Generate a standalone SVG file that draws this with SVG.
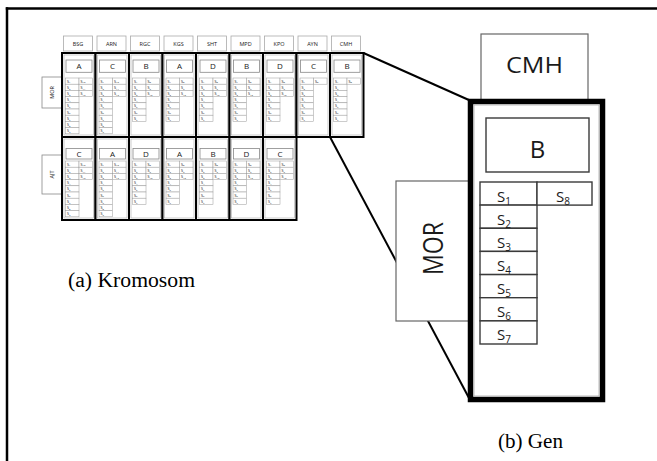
<svg xmlns="http://www.w3.org/2000/svg" xmlns:xlink="http://www.w3.org/1999/xlink" width="657" height="461" viewBox="0 0 657 461">
<style>
.frame{stroke:#000;stroke-width:2.5;fill:none}
.conn{stroke:#000;stroke-width:2;fill:none}
.col{fill:#fff;stroke:#000;stroke-width:2}
.coli{fill:none;stroke:#aaa;stroke-width:0.6}
.hdr{fill:#fff;stroke:#aaa;stroke-width:0.8}
.lb{fill:#fff;stroke:#888;stroke-width:0.8}
.sc{fill:#fff;stroke:#999;stroke-width:0.5}
.t{font-family:"Open Sans","Noto Sans",sans-serif;fill:#1a1a1a}
.ht{font-size:5.5px;text-anchor:middle}
.lt{font-size:8px;text-anchor:middle}
.st{font-size:3.6px}
.sub{font-size:2.5px}
.big{fill:#fff;stroke:#666;stroke-width:1.2}
.bigc{fill:#fff;stroke:#3a3a3a;stroke-width:1.4}
.bs{font-size:15px}
.bsub{font-size:10px}
.cap{font-family:"Liberation Serif","Times New Roman",serif;font-size:20px;fill:#000}
</style>
<defs>
<g id="c7r3">
<rect class="sc" x="3.5" y="0" width="13.5" height="6.2"/><rect class="sc" x="3.5" y="6.2" width="13.5" height="6.2"/><rect class="sc" x="3.5" y="12.4" width="13.5" height="6.2"/><rect class="sc" x="3.5" y="18.6" width="13.5" height="6.2"/><rect class="sc" x="3.5" y="24.8" width="13.5" height="6.2"/><rect class="sc" x="3.5" y="31" width="13.5" height="6.2"/><rect class="sc" x="3.5" y="37.2" width="13.5" height="6.2"/>
<rect class="sc" x="17" y="0" width="13.5" height="6.2"/><rect class="sc" x="17" y="6.2" width="13.5" height="6.2"/><rect class="sc" x="17" y="12.4" width="13.5" height="6.2"/>
<g class="t st">
<text x="5" y="4.6">S<tspan class="sub" dy="0.8">1</tspan></text><text x="5" y="10.8">S<tspan class="sub" dy="0.8">2</tspan></text><text x="5" y="17">S<tspan class="sub" dy="0.8">3</tspan></text><text x="5" y="23.2">S<tspan class="sub" dy="0.8">4</tspan></text><text x="5" y="29.4">S<tspan class="sub" dy="0.8">5</tspan></text><text x="5" y="35.6">S<tspan class="sub" dy="0.8">6</tspan></text><text x="5" y="41.8">S<tspan class="sub" dy="0.8">7</tspan></text>
<text x="18.5" y="4.6">S<tspan class="sub" dy="0.8">8</tspan></text><text x="18.5" y="10.8">S<tspan class="sub" dy="0.8">9</tspan></text><text x="18.5" y="17">S<tspan class="sub" dy="0.8">10</tspan></text>
</g>
</g>
<g id="c9r3">
<rect class="sc" x="3.5" y="0" width="13.5" height="6.2"/><rect class="sc" x="3.5" y="6.2" width="13.5" height="6.2"/><rect class="sc" x="3.5" y="12.4" width="13.5" height="6.2"/><rect class="sc" x="3.5" y="18.6" width="13.5" height="6.2"/><rect class="sc" x="3.5" y="24.8" width="13.5" height="6.2"/><rect class="sc" x="3.5" y="31" width="13.5" height="6.2"/><rect class="sc" x="3.5" y="37.2" width="13.5" height="6.2"/><rect class="sc" x="3.5" y="43.4" width="13.5" height="6.2"/><rect class="sc" x="3.5" y="49.6" width="13.5" height="6.2"/>
<rect class="sc" x="17" y="0" width="13.5" height="6.2"/><rect class="sc" x="17" y="6.2" width="13.5" height="6.2"/><rect class="sc" x="17" y="12.4" width="13.5" height="6.2"/>
<g class="t st">
<text x="5" y="4.6">S<tspan class="sub" dy="0.8">1</tspan></text><text x="5" y="10.8">S<tspan class="sub" dy="0.8">2</tspan></text><text x="5" y="17">S<tspan class="sub" dy="0.8">3</tspan></text><text x="5" y="23.2">S<tspan class="sub" dy="0.8">4</tspan></text><text x="5" y="29.4">S<tspan class="sub" dy="0.8">5</tspan></text><text x="5" y="35.6">S<tspan class="sub" dy="0.8">6</tspan></text><text x="5" y="41.8">S<tspan class="sub" dy="0.8">7</tspan></text><text x="5" y="48">S<tspan class="sub" dy="0.8">8</tspan></text><text x="5" y="54.2">S<tspan class="sub" dy="0.8">9</tspan></text>
<text x="18.5" y="4.6">S<tspan class="sub" dy="0.8">10</tspan></text><text x="18.5" y="10.8">S<tspan class="sub" dy="0.8">11</tspan></text><text x="18.5" y="17">S<tspan class="sub" dy="0.8">12</tspan></text>
</g>
</g>
<g id="c7r1">
<rect class="sc" x="3.5" y="0" width="13.5" height="6.2"/><rect class="sc" x="3.5" y="6.2" width="13.5" height="6.2"/><rect class="sc" x="3.5" y="12.4" width="13.5" height="6.2"/><rect class="sc" x="3.5" y="18.6" width="13.5" height="6.2"/><rect class="sc" x="3.5" y="24.8" width="13.5" height="6.2"/><rect class="sc" x="3.5" y="31" width="13.5" height="6.2"/><rect class="sc" x="3.5" y="37.2" width="13.5" height="6.2"/>
<rect class="sc" x="17" y="0" width="13.5" height="6.2"/>
<g class="t st">
<text x="5" y="4.6">S<tspan class="sub" dy="0.8">1</tspan></text><text x="5" y="10.8">S<tspan class="sub" dy="0.8">2</tspan></text><text x="5" y="17">S<tspan class="sub" dy="0.8">3</tspan></text><text x="5" y="23.2">S<tspan class="sub" dy="0.8">4</tspan></text><text x="5" y="29.4">S<tspan class="sub" dy="0.8">5</tspan></text><text x="5" y="35.6">S<tspan class="sub" dy="0.8">6</tspan></text><text x="5" y="41.8">S<tspan class="sub" dy="0.8">7</tspan></text>
<text x="18.5" y="4.6">S<tspan class="sub" dy="0.8">8</tspan></text>
</g>
</g>
</defs>

<rect x="0" y="0" width="657" height="461" fill="#fff"/>
<g id="frame">
<line class="frame" x1="5.8" y1="8.5" x2="657" y2="8.5"/>
<line class="frame" x1="7" y1="7.3" x2="7" y2="461"/>
</g>

<g id="connectors">
<line class="conn" x1="363.5" y1="53" x2="470" y2="100.5"/>
<line class="conn" x1="330" y1="137" x2="469" y2="398"/>
</g>

<g id="row-MOR">
<rect class="lb" x="42" y="77" width="20" height="31"/>
<text class="t ht" transform="translate(53.5 92.5) rotate(-90)">MOR</text>
</g>
<g id="row-AJT">
<rect class="lb" x="42" y="155" width="20" height="39"/>
<text class="t ht" transform="translate(53.5 174.5) rotate(-90)">AJT</text>
</g>

<g id="gen-BSG">
<rect class="hdr" x="63.5" y="36" width="29" height="15"/><text class="t ht" x="78" y="45.8">BSG</text>
<rect class="col" x="62" y="53" width="33.5" height="84"/><rect class="coli" x="64" y="55" width="29.5" height="80"/>
<rect class="lb" x="66" y="60" width="26" height="12.3"/><text class="t lt" x="79" y="69">A</text>
<use xlink:href="#c9r3" x="62" y="78"/>
</g>
<g id="gen-ARN">
<rect class="hdr" x="97" y="36" width="29" height="15"/><text class="t ht" x="111.5" y="45.8">ARN</text>
<rect class="col" x="95.5" y="53" width="33.5" height="84"/><rect class="coli" x="97.5" y="55" width="29.5" height="80"/>
<rect class="lb" x="99.5" y="60" width="26" height="12.3"/><text class="t lt" x="112.5" y="69">C</text>
<use xlink:href="#c9r3" x="95.5" y="78"/>
</g>
<g id="gen-RGC">
<rect class="hdr" x="130.5" y="36" width="29" height="15"/><text class="t ht" x="145" y="45.8">RGC</text>
<rect class="col" x="129" y="53" width="33.5" height="84"/><rect class="coli" x="131" y="55" width="29.5" height="80"/>
<rect class="lb" x="133" y="60" width="26" height="12.3"/><text class="t lt" x="146" y="69">B</text>
<use xlink:href="#c7r3" x="129" y="78"/>
</g>
<g id="gen-KGS">
<rect class="hdr" x="164" y="36" width="29" height="15"/><text class="t ht" x="178.5" y="45.8">KGS</text>
<rect class="col" x="162.5" y="53" width="33.5" height="84"/><rect class="coli" x="164.5" y="55" width="29.5" height="80"/>
<rect class="lb" x="166.5" y="60" width="26" height="12.3"/><text class="t lt" x="179.5" y="69">A</text>
<use xlink:href="#c7r3" x="162.5" y="78"/>
</g>
<g id="gen-SHT">
<rect class="hdr" x="197.5" y="36" width="29" height="15"/><text class="t ht" x="212" y="45.8">SHT</text>
<rect class="col" x="196" y="53" width="33.5" height="84"/><rect class="coli" x="198" y="55" width="29.5" height="80"/>
<rect class="lb" x="200" y="60" width="26" height="12.3"/><text class="t lt" x="213" y="69">D</text>
<use xlink:href="#c7r3" x="196" y="78"/>
</g>
<g id="gen-MPD">
<rect class="hdr" x="231" y="36" width="29" height="15"/><text class="t ht" x="245.5" y="45.8">MPD</text>
<rect class="col" x="229.5" y="53" width="33.5" height="84"/><rect class="coli" x="231.5" y="55" width="29.5" height="80"/>
<rect class="lb" x="233.5" y="60" width="26" height="12.3"/><text class="t lt" x="246.5" y="69">B</text>
<use xlink:href="#c7r3" x="229.5" y="78"/>
</g>
<g id="gen-KPO">
<rect class="hdr" x="264.5" y="36" width="29" height="15"/><text class="t ht" x="279" y="45.8">KPO</text>
<rect class="col" x="263" y="53" width="33.5" height="84"/><rect class="coli" x="265" y="55" width="29.5" height="80"/>
<rect class="lb" x="267" y="60" width="26" height="12.3"/><text class="t lt" x="280" y="69">D</text>
<use xlink:href="#c7r3" x="263" y="78"/>
</g>
<g id="gen-AYN">
<rect class="hdr" x="298" y="36" width="29" height="15"/><text class="t ht" x="312.5" y="45.8">AYN</text>
<rect class="col" x="296.5" y="53" width="33.5" height="84"/><rect class="coli" x="298.5" y="55" width="29.5" height="80"/>
<rect class="lb" x="300.5" y="60" width="26" height="12.3"/><text class="t lt" x="313.5" y="69">C</text>
<use xlink:href="#c7r1" x="296.5" y="78"/>
</g>
<g id="gen-CMH">
<rect class="hdr" x="331.5" y="36" width="29" height="15"/><text class="t ht" x="346" y="45.8">CMH</text>
<rect class="col" x="330" y="53" width="33.5" height="84"/><rect class="coli" x="332" y="55" width="29.5" height="80"/>
<rect class="lb" x="334" y="60" width="26" height="12.3"/><text class="t lt" x="347" y="69">B</text>
<use xlink:href="#c7r1" x="330" y="78"/>
</g>

<g id="ajt-1">
<rect class="col" x="62" y="137" width="33.5" height="83"/><rect class="coli" x="64" y="139" width="29.5" height="79"/>
<rect class="lb" x="66" y="148.5" width="26" height="10.5"/><text class="t lt" x="79" y="156.7">C</text>
<use xlink:href="#c9r3" x="62" y="161"/>
</g>
<g id="ajt-2">
<rect class="col" x="95.5" y="137" width="33.5" height="83"/><rect class="coli" x="97.5" y="139" width="29.5" height="79"/>
<rect class="lb" x="99.5" y="148.5" width="26" height="10.5"/><text class="t lt" x="112.5" y="156.7">A</text>
<use xlink:href="#c9r3" x="95.5" y="161"/>
</g>
<g id="ajt-3">
<rect class="col" x="129" y="137" width="33.5" height="83"/><rect class="coli" x="131" y="139" width="29.5" height="79"/>
<rect class="lb" x="133" y="148.5" width="26" height="10.5"/><text class="t lt" x="146" y="156.7">D</text>
<use xlink:href="#c7r3" x="129" y="161"/>
</g>
<g id="ajt-4">
<rect class="col" x="162.5" y="137" width="33.5" height="83"/><rect class="coli" x="164.5" y="139" width="29.5" height="79"/>
<rect class="lb" x="166.5" y="148.5" width="26" height="10.5"/><text class="t lt" x="179.5" y="156.7">A</text>
<use xlink:href="#c7r3" x="162.5" y="161"/>
</g>
<g id="ajt-5">
<rect class="col" x="196" y="137" width="33.5" height="83"/><rect class="coli" x="198" y="139" width="29.5" height="79"/>
<rect class="lb" x="200" y="148.5" width="26" height="10.5"/><text class="t lt" x="213" y="156.7">B</text>
<use xlink:href="#c7r3" x="196" y="161"/>
</g>
<g id="ajt-6">
<rect class="col" x="229.5" y="137" width="33.5" height="83"/><rect class="coli" x="231.5" y="139" width="29.5" height="79"/>
<rect class="lb" x="233.5" y="148.5" width="26" height="10.5"/><text class="t lt" x="246.5" y="156.7">D</text>
<use xlink:href="#c7r3" x="229.5" y="161"/>
</g>
<g id="ajt-7">
<rect class="col" x="263" y="137" width="33.5" height="83"/><rect class="coli" x="265" y="139" width="29.5" height="79"/>
<rect class="lb" x="267" y="148.5" width="26" height="10.5"/><text class="t lt" x="280" y="156.7">C</text>
<use xlink:href="#c7r3" x="263" y="161"/>
</g>

<text class="cap" x="68" y="287" textLength="127" lengthAdjust="spacingAndGlyphs">(a) Kromosom</text>

<g id="big-CMH">
<rect class="big" x="481" y="34" width="107" height="67"/>
<text class="t" x="534.5" y="73" font-size="22" text-anchor="middle" textLength="57" lengthAdjust="spacingAndGlyphs">CMH</text>
</g>
<g id="big-MOR">
<rect class="big" x="396" y="181" width="74" height="140"/>
<text class="t" transform="translate(443 248.5) rotate(-90)" font-size="27" text-anchor="middle" textLength="53" lengthAdjust="spacingAndGlyphs">MOR</text>
</g>
<g id="big-gene">
<rect x="470.5" y="101.5" width="132" height="298" fill="#fff" stroke="#000" stroke-width="5.5"/>
<rect x="474" y="105" width="125" height="291" fill="none" stroke="#aaa" stroke-width="0.8"/>
<rect class="bigc" x="486" y="118" width="103" height="54" stroke="#555"/>
<text class="t" x="537.5" y="158" font-size="24" text-anchor="middle">B</text>
<rect class="bigc" x="480" y="182" width="57" height="23.1"/>
<rect class="bigc" x="480" y="205.1" width="57" height="23.1"/>
<rect class="bigc" x="480" y="228.3" width="57" height="23.1"/>
<rect class="bigc" x="480" y="251.4" width="57" height="23.1"/>
<rect class="bigc" x="480" y="274.6" width="57" height="23.1"/>
<rect class="bigc" x="480" y="297.7" width="57" height="23.1"/>
<rect class="bigc" x="480" y="320.9" width="57" height="23.1"/>
<rect class="bigc" x="537" y="182" width="55" height="23.1"/>
<g class="t bs">
<text x="497" y="201.5">S<tspan class="bsub" dy="3">1</tspan></text>
<text x="497" y="224.6">S<tspan class="bsub" dy="3">2</tspan></text>
<text x="497" y="247.8">S<tspan class="bsub" dy="3">3</tspan></text>
<text x="497" y="270.9">S<tspan class="bsub" dy="3">4</tspan></text>
<text x="497" y="294.1">S<tspan class="bsub" dy="3">5</tspan></text>
<text x="497" y="317.2">S<tspan class="bsub" dy="3">6</tspan></text>
<text x="497" y="340.4">S<tspan class="bsub" dy="3">7</tspan></text>
<text x="556" y="201.5">S<tspan class="bsub" dy="3">8</tspan></text>
</g>
</g>

<text class="cap" x="498" y="448" textLength="65" lengthAdjust="spacingAndGlyphs">(b) Gen</text>
</svg>
